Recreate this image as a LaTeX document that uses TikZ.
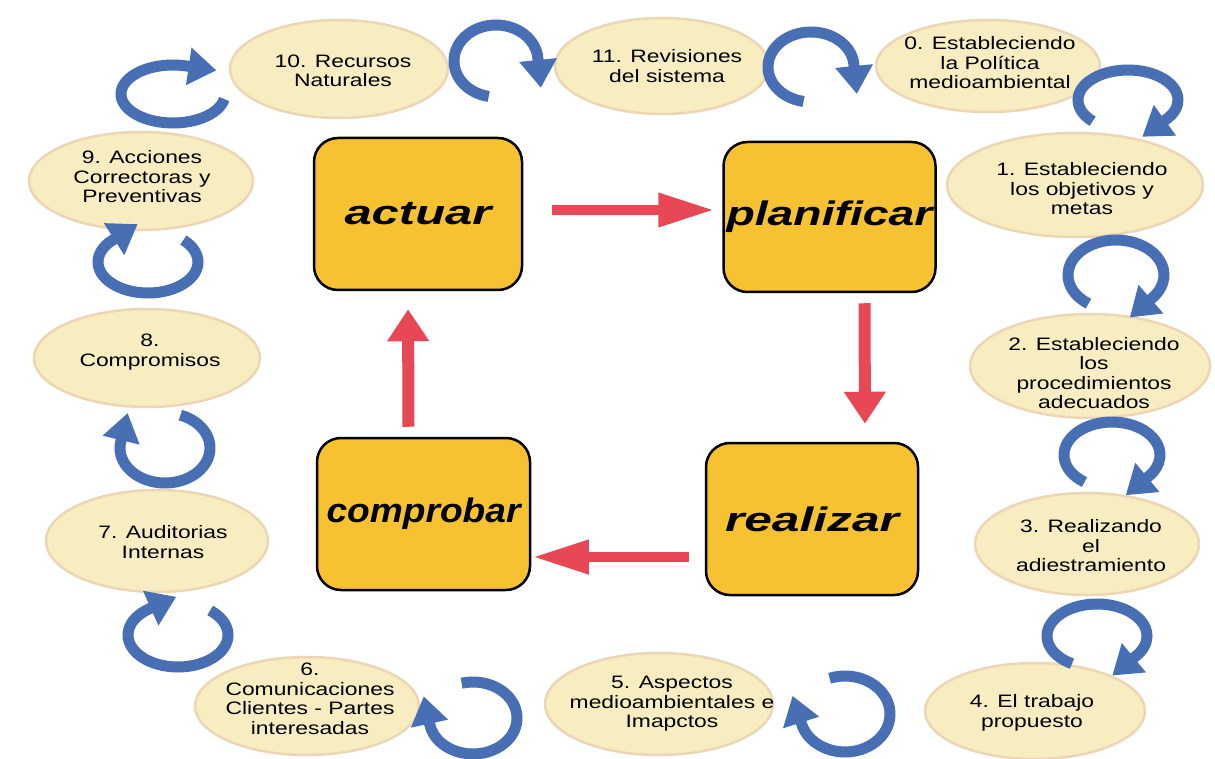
\documentclass[tikz,border=0pt]{standalone}
\usepackage{fontspec}
\usepackage{graphicx}
\setmainfont{Liberation Sans}
\newfontfamily\elfont{Liberation Sans}[FakeStretch=1.27]
\usetikzlibrary{shapes.geometric,arrows.meta}
\definecolor{elfill}{RGB}{248,237,192}
\definecolor{eldraw}{RGB}{236,214,182}
\definecolor{boxfill}{RGB}{246,194,50}
\definecolor{redarr}{RGB}{232,72,86}
\definecolor{bluearr}{RGB}{72,110,180}
\tikzset{
  el/.style={ellipse, draw=eldraw, fill=elfill, line width=2.5pt, inner sep=0pt},
  eltext/.style={align=center, inner sep=0pt, font=\elfont\fontsize{18}{19.5}\selectfont},
  pdca/.style={draw=black, line width=2.5pt, fill=boxfill, rounded corners=24pt,
    minimum width=210pt, minimum height=152pt, inner sep=0pt,
    font=\fontsize{34}{38}\selectfont\bfseries\itshape},
  redh/.style={draw=redarr, line width=10pt, -{Triangle[length=56pt,width=32pt]}},
  redv/.style={draw=redarr, line width=12pt, -{Triangle[length=32pt,width=40pt]}},
  bluearrow/.style={draw=bluearr, line width=11pt, -{Triangle[length=28pt,width=36pt]}},
}
\begin{document}
\begin{tikzpicture}[x=1pt,y=-1pt]
\fill[white] (0,0) rectangle (1215,759);
\useasboundingbox (0,0) rectangle (1215,759);

% ellipses
\node[el, minimum width=218pt, minimum height=98pt] (e10) at (339,69) {};
\node[el, minimum width=214pt, minimum height=96pt] (e11) at (662,66) {};
\node[el, minimum width=224pt, minimum height=92pt] (e0) at (988,66) {};
\node[el, minimum width=256pt, minimum height=104pt] (e1) at (1075,185) {};
\node[el, minimum width=240pt, minimum height=104pt] (e2) at (1090,366) {};
\node[el, minimum width=224pt, minimum height=102pt] (e3) at (1087,544) {};
\node[el, minimum width=220pt, minimum height=96pt] (e4) at (1035,711) {};
\node[el, minimum width=228pt, minimum height=102pt] (e5) at (659,704) {};
\node[el, minimum width=224pt, minimum height=98pt] (e6) at (307,706) {};
\node[el, minimum width=222pt, minimum height=102pt] (e7) at (157,541) {};
\node[el, minimum width=226pt, minimum height=98pt] (e8) at (147,358) {};
\node[el, minimum width=224pt, minimum height=98pt] (e9) at (141,181) {};

\node[eltext] (t10) at (343,71) {10. Recursos\\Naturales};
\node[eltext] (t11) at (667,66) {11. Revisiones\\del sistema};
\node[eltext] (t0) at (990,63) {0. Estableciendo\\la Política\\medioambiental};
\node[eltext] (t1) at (1082,189) {1. Estableciendo\\los objetivos y\\metas};
\node[eltext] (t2) at (1094,373) {2. Estableciendo\\los\\procedimientos\\adecuados};
\node[eltext] (t3) at (1091,546) {3. Realizando\\el\\adiestramiento};
\node[eltext] (t4) at (1032,713) {4. El trabajo\\propuesto};
\node[eltext] (t5) at (672,704) {5. Aspectos\\medioambientales e\\Imapctos};
\node[eltext] (t6) at (310,699) {6.\\Comunicaciones\\Clientes - Partes\\interesadas};
\node[eltext] (t7) at (163,542) {7. Auditorias\\Internas};
\node[eltext] (t8) at (150,352) {8.\\Compromisos};
\node[eltext] (t9) at (142,177) {9. Acciones\\Correctoras y\\Preventivas};

% central boxes
\node[pdca, minimum width=208pt] (actuar) at (418,214) {\resizebox{147pt}{\height}{actuar}};
\node[pdca, minimum width=212pt, minimum height=150pt] (planificar) at (829.5,217) {\resizebox{206pt}{\height}{planificar}};
\node[pdca, minimum width=213pt] (comprobar) at (423.5,514) {\resizebox{194pt}{\height}{comprobar}};
\node[pdca, minimum width=212pt] (realizar) at (812,519) {\resizebox{174pt}{\height}{realizar}};

% red arrows
\draw[redh, shorten <=29pt, shorten >=8pt] ([yshift=4pt]actuar.east) -- ([yshift=7pt]planificar.west);
\draw[redv, shorten <=10pt, shorten >=18pt] ([xshift=35pt]planificar.south) -- ([xshift=53pt]realizar.north);
\draw[redh, shorten <=16pt, shorten >=1.5pt] ([yshift=-38pt]realizar.west) -- ([yshift=-43pt]comprobar.east);
\draw[redv, shorten <=10pt, shorten >=18pt] ([xshift=-15pt]comprobar.north) -- ([xshift=-10pt]actuar.south);

% blue loop arrows
\draw[bluearrow] (173,94) ++(10:52 and 29) arc[start angle=10, end angle=285, x radius=52, y radius=29] -- ++(30,4.4);
\draw[bluearrow] (496,61) ++(100:42 and 36) arc[start angle=100, end angle=355, x radius=42, y radius=36] -- ++(3,30);
\draw[bluearrow] (811,67) ++(100:43 and 35) arc[start angle=100, end angle=355, x radius=43, y radius=35] -- ++(3,30);
\draw[bluearrow] (1128,100) ++(135:50 and 30) arc[start angle=135, end angle=400, x radius=50, y radius=30] -- ++(-24,17.5);
\draw[bluearrow] (1116,275) ++(125:48 and 35) arc[start angle=125, end angle=400, x radius=48, y radius=35] -- ++(-23,20);
\draw[bluearrow] (1112,455) ++(125:48 and 33) arc[start angle=125, end angle=400, x radius=48, y radius=33] -- ++(-23,19);
\draw[bluearrow] (1097,636) ++(120:50 and 32) arc[start angle=120, end angle=400, x radius=50, y radius=32] -- ++(-23,19);
\draw[bluearrow] (845,714) ++(250:45 and 38) arc[start angle=250, end angle=525, x radius=45, y radius=38] -- ++(-9,-28);
\draw[bluearrow] (473,718) ++(255:44 and 36) arc[start angle=255, end angle=530, x radius=44, y radius=36] -- ++(-6,-28);
\draw[bluearrow] (178,635) ++(310:50 and 32) arc[start angle=310, end angle=595, x radius=50, y radius=32] -- ++(27,-12);
\draw[bluearrow] (165,448) ++(290:45 and 35) arc[start angle=290, end angle=550, x radius=45, y radius=35] -- ++(7,-29);
\draw[bluearrow] (148,262) ++(315:50 and 31) arc[start angle=315, end angle=585, x radius=50, y radius=31] -- ++(25,-16);
\end{tikzpicture}
\end{document}
